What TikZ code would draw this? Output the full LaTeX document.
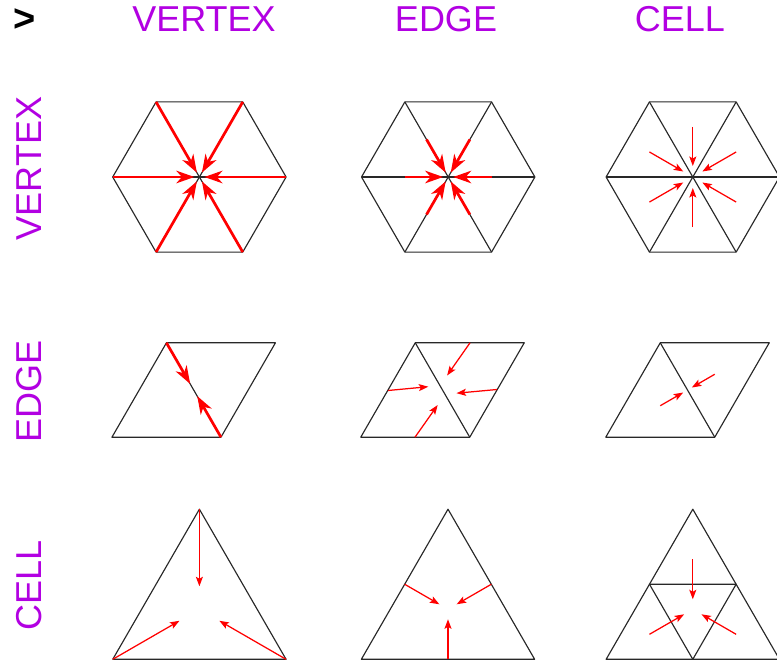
\documentclass[tikz,border=0pt]{standalone}
\usepackage{fontspec}
\setmainfont{Liberation Sans}
\usetikzlibrary{arrows.meta,calc}
\definecolor{lbl}{RGB}{178,0,226}
\definecolor{edgecol}{RGB}{40,40,40}
\tikzset{
  meshline/.style={draw=edgecol,line width=1.15pt,line join=round},
  bigarrow/.style={red,line width=2.7pt,-{Stealth[length=18pt,width=12.5pt,inset=5.5pt]}},
  thinarrow/.style={red,line width=1.25pt,-{Stealth[length=9.5pt,width=7pt,inset=2pt]}},
  heading/.style={text=lbl,font=\fontsize{36}{36}\selectfont,inner sep=0pt},
}
\begin{document}
\begin{tikzpicture}[x=1pt,y=-1pt]
\useasboundingbox (0,0) rectangle (777,664);
\clip (0,0) rectangle (777,664);
% labels
\node[inner sep=0pt,font=\fontsize{38}{38}\selectfont\bfseries] (gt) at (24.5,20) {>};
\node[heading] (cv) at (204,19.5) {VERTEX};
\node[heading] (ce) at (446,19.5) {EDGE};
\node[heading] (cc) at (680,19.5) {CELL};
\node[heading,rotate=90] (rv) at (29,168.5) {VERTEX};
\node[heading,rotate=90] (re) at (29,391) {EDGE};
\node[heading,rotate=90] (rc) at (29,585) {CELL};

% ---------- row 1: hexagons ----------
\foreach \h/\cx in {1/199.4,2/448.2,3/692.8}{
  \coordinate (h\h c) at (\cx,177);
  \foreach \i in {0,...,5}{
    \coordinate (h\h v\i) at ($(h\h c)+(\i*60:86.7)$);
  }
  \draw[meshline] (h\h v0)--(h\h v1)--(h\h v2)--(h\h v3)--(h\h v4)--(h\h v5)--cycle;
  \foreach \i in {0,...,5}{\draw[meshline] (h\h c)--(h\h v\i);}
}
\foreach \i in {0,...,5}{
  \draw[bigarrow,shorten >=5pt] (h1v\i) -- (h1c);
  \coordinate (h2m\i) at ($(h2c)!0.5!(h2v\i)$);
  \draw[bigarrow,shorten >=5pt] (h2m\i) -- (h2c);
  \coordinate (h3f\i) at ($(h3c)+(\i*60+30:50.05)$);
  \draw[thinarrow,shorten >=11pt] (h3f\i) -- (h3c);
}

% ---------- row 2: rhombi ----------
\foreach \r/\cx in {1/193.7,2/442.5,3/687.5}{
  \coordinate (r\r o) at (\cx,390);
  \coordinate (r\r a) at ($(r\r o)+(-27.25,-47.2)$);
  \coordinate (r\r b) at ($(r\r o)+(81.75,-47.2)$);
  \coordinate (r\r c) at ($(r\r o)+(27.25,47.2)$);
  \coordinate (r\r d) at ($(r\r o)+(-81.75,47.2)$);
  \draw[meshline] (r\r a)--(r\r b)--(r\r c)--(r\r d)--cycle;
  \draw[meshline] (r\r a)--(r\r c);
}
\draw[bigarrow,shorten >=7pt] (r1a) -- (r1o);
\draw[bigarrow,shorten >=7pt] (r1c) -- (r1o);
% rhombus 2
\coordinate (r2s1) at ($(r2o)+(-54.5,0.5)$);
\coordinate (r2e1) at ($(r2o)+(-14.2,-3.3)$);
\coordinate (r2s2) at ($(r2o)+(-27.5,47.2)$);
\coordinate (r2e2) at ($(r2o)+(-4.8,15)$);
\coordinate (r2s3) at ($(r2o)+(27.5,-47.2)$);
\coordinate (r2e3) at ($(r2o)+(4.6,-14.5)$);
\coordinate (r2s4) at ($(r2o)+(54.5,-0.5)$);
\coordinate (r2e4) at ($(r2o)+(14,3.2)$);
\foreach \k in {1,...,4}{\draw[thinarrow] (r2s\k) -- (r2e\k);}
% rhombus 3
\coordinate (r3g1) at ($(r3o)+(-27.25,15.73)$);
\coordinate (r3g2) at ($(r3o)+(27.25,-15.73)$);
\draw[thinarrow,shorten >=5pt] (r3g1) -- (r3o);
\draw[thinarrow,shorten >=5pt] (r3g2) -- (r3o);

% ---------- row 3: triangles ----------
\foreach \t/\cx in {1/199.4,2/448,3/692.8}{
  \coordinate (t\t a) at (\cx,509.2);
  \coordinate (t\t b) at (\cx-86.65,659.3);
  \coordinate (t\t c) at (\cx+86.65,659.3);
  \coordinate (t\t g) at (\cx,609.27);
  \coordinate (t\t mab) at ($(t\t a)!0.5!(t\t b)$);
  \coordinate (t\t mbc) at ($(t\t b)!0.5!(t\t c)$);
  \coordinate (t\t mca) at ($(t\t c)!0.5!(t\t a)$);
  \draw[meshline] (t\t a)--(t\t b)--(t\t c)--cycle;
}
% triangle 1: vertices to centroid
\draw[thinarrow,shorten >=23pt] (t1a) -- (t1g);
\draw[thinarrow,shorten >=23pt] (t1b) -- (t1g);
\draw[thinarrow,shorten >=23pt] (t1c) -- (t1g);
% triangle 2: edge midpoints to centroid
\draw[thinarrow,shorten >=10pt] (t2mab) -- (t2g);
\draw[thinarrow,shorten >=10pt] (t2mbc) -- (t2g);
\draw[thinarrow,shorten >=10pt] (t2mca) -- (t2g);
% triangle 3: subdivided
\draw[meshline] (t3mab)--(t3mbc)--(t3mca)--cycle;
\coordinate (t3ga) at (692.8,559.2);
\coordinate (t3gb) at (649.47,634.3);
\coordinate (t3gc) at (736.13,634.3);
\draw[thinarrow,shorten >=10pt] (t3ga) -- (t3g);
\draw[thinarrow,shorten >=10pt] (t3gb) -- (t3g);
\draw[thinarrow,shorten >=10pt] (t3gc) -- (t3g);
\end{tikzpicture}
\end{document}
